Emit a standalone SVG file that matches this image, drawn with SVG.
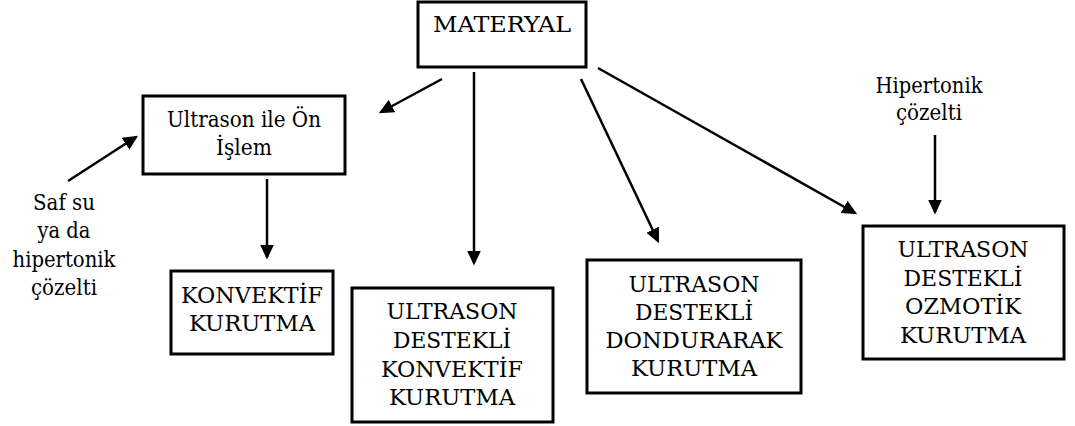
<svg xmlns="http://www.w3.org/2000/svg" width="1075" height="426" viewBox="0 0 1075 426">
<defs>
<marker id="ah" markerWidth="6" markerHeight="5.6" refX="5" refY="2.8" orient="auto" markerUnits="strokeWidth">
<path d="M0,0 L6,2.8 L0,5.6 Z" fill="#000"/>
</marker>
<style>
.box{fill:#fff;stroke:#000;stroke-width:3}
.t{font-family:'DejaVu Serif','Liberation Serif',serif;font-size:23px;fill:#000;text-anchor:middle}
.c{stroke:#000;stroke-width:2.5;fill:none;marker-end:url(#ah)}
</style>
</defs>
<rect width="1075" height="426" fill="#fff"/>
<g id="connectors">
<line class="c" x1="442" y1="79" x2="381" y2="112"/>
<line class="c" x1="68" y1="181" x2="136" y2="137"/>
<line class="c" x1="267" y1="179" x2="267" y2="257"/>
<line class="c" x1="474" y1="72" x2="474" y2="263"/>
<line class="c" x1="581" y1="79" x2="658" y2="241"/>
<line class="c" x1="598" y1="68" x2="855" y2="213"/>
<line class="c" x1="935" y1="135" x2="935" y2="212"/>
</g>
<g id="materyal">
<rect class="box" x="418" y="2" width="168" height="65"/>
<text class="t" x="502" y="32" textLength="138" lengthAdjust="spacingAndGlyphs">MATERYAL</text>
</g>
<g id="ultrason-on-islem">
<rect class="box" x="143" y="96" width="202" height="78"/>
<text class="t" x="244" y="127" textLength="154" lengthAdjust="spacingAndGlyphs">Ultrason ile Ön</text>
<text class="t" x="244" y="155" textLength="56" lengthAdjust="spacingAndGlyphs">İşlem</text>
</g>
<g id="konvektif">
<rect class="box" x="171" y="271" width="162" height="83"/>
<text class="t" x="252" y="303" textLength="142" lengthAdjust="spacingAndGlyphs">KONVEKTİF</text>
<text class="t" x="252" y="331" textLength="126" lengthAdjust="spacingAndGlyphs">KURUTMA</text>
</g>
<g id="us-konvektif">
<rect class="box" x="352" y="288" width="201" height="134"/>
<text class="t" x="452" y="319" textLength="131" lengthAdjust="spacingAndGlyphs">ULTRASON</text>
<text class="t" x="452" y="348" textLength="118" lengthAdjust="spacingAndGlyphs">DESTEKLİ</text>
<text class="t" x="452" y="377" textLength="142" lengthAdjust="spacingAndGlyphs">KONVEKTİF</text>
<text class="t" x="452" y="405" textLength="126" lengthAdjust="spacingAndGlyphs">KURUTMA</text>
</g>
<g id="us-dondurarak">
<rect class="box" x="587" y="260" width="214" height="133"/>
<text class="t" x="694" y="292" textLength="131" lengthAdjust="spacingAndGlyphs">ULTRASON</text>
<text class="t" x="694" y="320" textLength="118" lengthAdjust="spacingAndGlyphs">DESTEKLİ</text>
<text class="t" x="694" y="348" textLength="177" lengthAdjust="spacingAndGlyphs">DONDURARAK</text>
<text class="t" x="694" y="376" textLength="126" lengthAdjust="spacingAndGlyphs">KURUTMA</text>
</g>
<g id="us-ozmotik">
<rect class="box" x="863" y="226" width="201" height="133"/>
<text class="t" x="963" y="257" textLength="131" lengthAdjust="spacingAndGlyphs">ULTRASON</text>
<text class="t" x="963" y="286" textLength="119" lengthAdjust="spacingAndGlyphs">DESTEKLİ</text>
<text class="t" x="963" y="314" textLength="116" lengthAdjust="spacingAndGlyphs">OZMOTİK</text>
<text class="t" x="963" y="343" textLength="126" lengthAdjust="spacingAndGlyphs">KURUTMA</text>
</g>
<g id="hipertonik">
<text class="t" x="929" y="93" textLength="107" lengthAdjust="spacingAndGlyphs">Hipertonik</text>
<text class="t" x="929" y="120" textLength="66" lengthAdjust="spacingAndGlyphs">çözelti</text>
</g>
<g id="saf-su">
<text class="t" x="64" y="210" textLength="62" lengthAdjust="spacingAndGlyphs">Saf su</text>
<text class="t" x="64" y="238" textLength="53" lengthAdjust="spacingAndGlyphs">ya da</text>
<text class="t" x="64" y="267" textLength="103" lengthAdjust="spacingAndGlyphs">hipertonik</text>
<text class="t" x="64" y="295" textLength="66" lengthAdjust="spacingAndGlyphs">çözelti</text>
</g>
</svg>
